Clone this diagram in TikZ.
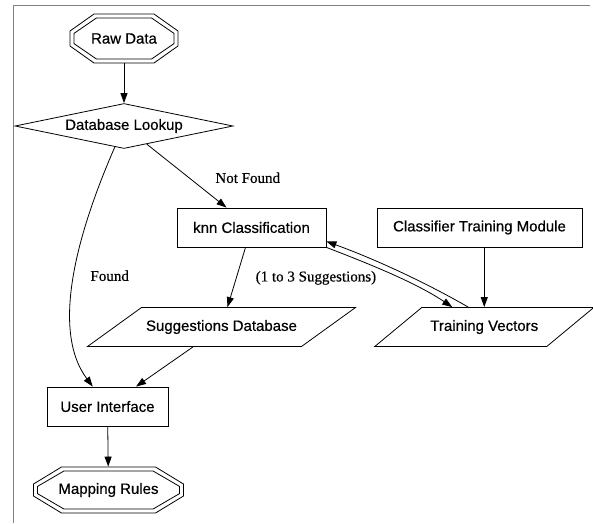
\documentclass[tikz,border=0pt]{standalone}
\usepackage{fontspec}
\setmainfont{Liberation Serif}[FakeBold=0.5]
\setsansfont{Liberation Sans}[FakeBold=0.5]
\usetikzlibrary{calc,arrows.meta,shapes.geometric}

\begin{document}
\begin{tikzpicture}[x=1pt,y=-1pt,line width=0.8pt,
  >={Triangle[length=10pt,width=7pt]},
  every node/.style={font=\sffamily\fontsize{15}{18}\selectfont},
  box/.style={draw,minimum height=39pt,inner sep=0pt},
  hold/.style={minimum height=39pt,inner sep=0pt},
  lbl/.style={font=\rmfamily\fontsize{15}{18}\selectfont,inner sep=0pt}]
\useasboundingbox (0,0) rectangle (593,523);
\draw[gray] (590,5) -- (13,5) -- (13,523);

% nodes
\node[hold,minimum width=108pt,minimum height=49pt] (raw) at (124,38.5) {Raw Data};
\node[draw,diamond,aspect=4.8,minimum width=218pt,minimum height=45pt,inner sep=0pt] (lookup) at (124,126) {Database Lookup};
\node[box,minimum width=149pt] (knn) at (251.5,227.5) {knn Classification};
\node[box,minimum width=205pt] (cls) at (479.5,227.5) {Classifier Training Module};
\node[hold,minimum width=200pt] (sugg) at (221.5,327) {Suggestions Database};
\node[hold,minimum width=160pt] (tv) at (484.25,327) {Training Vectors};
\node[box,minimum width=121pt] (ui) at (107.5,406.5) {User Interface};
\node[hold,minimum width=150pt,minimum height=46pt] (map) at (108.5,490) {Mapping Rules};

% double octagons
\foreach \n/\w/\h/\a/\b in {raw/54/24.5/24/17, map/75/23/28/17}
  \foreach \d in {0,4} {
    \pgfmathsetmacro\ow{\w-\d} \pgfmathsetmacro\oh{\h-\d}
    \pgfmathsetmacro\ox{\a-0.4*\d} \pgfmathsetmacro\oy{\b-0.4*\d}
    \draw[shift={(\n.center)}] (-\ow,\oy-\oh) -- (\ox-\ow,-\oh) -- (\ow-\ox,-\oh) -- (\ow,\oy-\oh)
      -- (\ow,\oh-\oy) -- (\ow-\ox,\oh) -- (\ox-\ow,\oh) -- (-\ow,\oh-\oy) -- cycle;
  }

% parallelograms
\foreach \n/\w/\s in {sugg/107/27, tv/86/23.5}
  \draw[shift={(\n.center)}] (-\w-\s,19.5) -- (-\w+\s,-19.5) -- (\w+\s,-19.5) -- (\w-\s,19.5) -- cycle;

% edges
\draw[->] (raw) -- (lookup);
\draw[->] (lookup) -- node[lbl,pos=.53,right=26pt] {Not Found} (knn);
\draw[->] (lookup) .. controls (79,229) and (49.5,328.5) .. node[lbl,pos=.5,right=16pt] {Found} (ui);
\draw[->] (knn) -- node[lbl,pos=.51,right=19pt] {(1 to 3 Suggestions)} (sugg);
\draw[->] (sugg) -- (ui);
\draw[->] (ui) -- (map);
\draw[->] (cls.south -| tv.north) -- (tv.north);
\draw[->] (knn.south east) .. controls (375,266) and (418,284) .. ([xshift=-32pt]tv.north);
\draw[->] ([xshift=-16pt]tv.north) .. controls (430,285) and (380,261) .. ([yshift=6pt]knn.south east);
\end{tikzpicture}
\end{document}
